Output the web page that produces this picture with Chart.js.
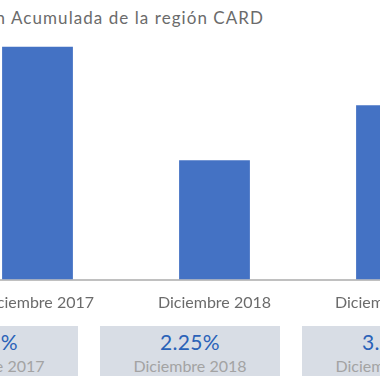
<!DOCTYPE html>
<html>
<head>
<meta charset="utf-8">
<script src="https://cdn.jsdelivr.net/npm/chart.js@4/dist/chart.umd.min.js"></script>
<style>
  html, body { margin: 0; padding: 0; width: 380px; height: 380px; overflow: hidden; background: #ffffff; font-family: Lato, "Noto Sans", sans-serif; }
  #title { position: absolute; right: 117px; top: 7px; white-space: nowrap; font-size: 17px; color: #6b6b6b; }
  #wrap { position: absolute; left: -51px; top: 0; width: 531px; height: 320px; }
  .box { position: absolute; top: 326px; width: 180px; height: 50px; background: #d8dde5; text-align: center; }
  .box .v { font-size: 21px; color: #2a62b8; line-height: 24px; margin-top: 4px; letter-spacing: 0.3px; }
  .box .d { font-size: 16px; color: #a3a3a3; line-height: 20px; margin-top: 2px; }
</style>
</head>
<body>
<div id="title"></div>
<div id="wrap"><canvas id="c"></canvas></div>
<div id="boxes"></div>
<script>
const titleText = "Inflación Acumulada de la región CARD";
const categories = ["Diciembre 2017", "Diciembre 2018", "Diciembre 2019"];
const inflation = [4.39, 2.25, 3.29];
const valueLabels = ["4.39%", "2.25%", "3.29%"];

// title: widen letter spacing to mimic the wide geometric face of the original
(function () {
  const t = document.getElementById('title');
  t.textContent = titleText;
  const mc = document.createElement('canvas').getContext('2d');
  mc.font = '17px Lato';
  const tail = 'Acumulada de la región CARD';
  const w = mc.measureText(tail).width;
  const ls = (253 - w) / tail.length;
  t.style.letterSpacing = ls.toFixed(2) + 'px';
  t.style.right = (117 - ls) + 'px';
})();

const boxes = document.getElementById('boxes');
categories.forEach((cat, i) => {
  const b = document.createElement('div');
  b.className = 'box';
  b.style.left = (-102 + i * 202) + 'px';
  b.innerHTML = '<div class="v">' + valueLabels[i] + '</div><div class="d">' + cat + '</div>';
  boxes.appendChild(b);
});

new Chart(document.getElementById('c'), {
  type: 'bar',
  data: {
    labels: categories,
    datasets: [{
      data: inflation,
      backgroundColor: '#4472c4',
      borderWidth: 0,
      categoryPercentage: 1,
      barPercentage: 0.4
    }]
  },
  options: {
    responsive: true,
    maintainAspectRatio: false,
    animation: false,
    layout: { padding: { top: 14.5, left: 0, right: 0, bottom: 0 } },
    plugins: { legend: { display: false }, tooltip: { enabled: false }, title: { display: false } },
    scales: {
      x: {
        grid: { display: false },
        border: { display: true, color: '#c0c0c0', width: 2 },
        ticks: { color: '#6b6b6b', font: { family: 'Lato', size: 16 }, padding: 6, maxRotation: 0, autoSkip: false },
        afterFit: (s) => { s.height = 40.5; }
      },
      y: {
        display: false,
        min: 0,
        max: 5
      }
    }
  }
});
</script>
</body>
</html>
